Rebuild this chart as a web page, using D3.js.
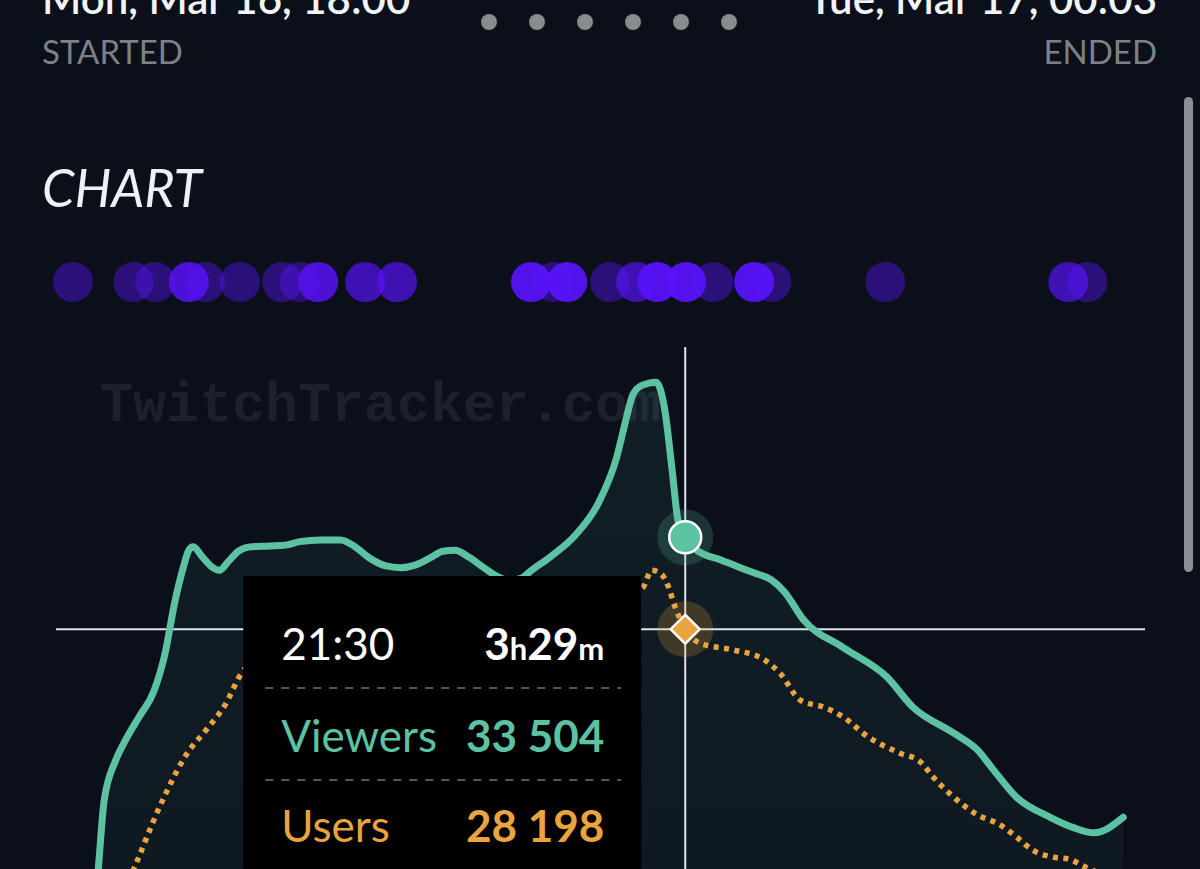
<!DOCTYPE html>
<html>
<head>
<meta charset="UTF-8">
<style>
body, html {
    margin: 0;
    padding: 0;
    width: 100%;
    height: 100%;
    overflow: hidden;
    background-color: #0a0f1a;
}
svg {
    display: block;
    font-family: Lato, "Noto Sans", sans-serif;
}
</style>
</head>
<body>
<svg id="chart" width="1200" height="869"></svg>

<script src="https://d3js.org/d3.v7.min.js"></script>
<script>
// stream info
let startLabel = "Mon, Mar 16, 18:00";
let endLabel = "Tue, Mar 17, 00:03";
let streamLength = 363; // minutes, 18:00 -> 00:03

// viewers (minutes after 18:00, count)
let viewerMinutes = [4, 9, 11, 15, 18, 23, 28, 32, 35, 38, 40, 41.5, 44.5, 47.5, 50.5, 53.5, 57, 61, 68, 73, 78, 85, 92, 97, 101.5, 107.5, 112.5, 117.5, 122.5, 127, 131, 136, 141, 145, 150, 154, 157, 164, 172.5, 180.5, 186.5, 189.5, 192, 195, 200, 203, 205.5, 207.5, 210, 214, 222, 233.5, 239.5, 244, 250.5, 264, 279, 288, 302, 310, 315.5, 323.5, 335, 343, 350, 360];
let viewerCounts = [6000, 14400, 18300, 20650, 21700, 23150, 24600, 26900, 29600, 31700, 32750, 32950, 32400, 31850, 31600, 32100, 32700, 32950, 33000, 33050, 33250, 33350, 33350, 32950, 32350, 31850, 31750, 31900, 32300, 32700, 32750, 32350, 31750, 31300, 31000, 31150, 31550, 32400, 33650, 35550, 38100, 40150, 41700, 42250, 42450, 40850, 37400, 34500, 33504, 32750, 32200, 31450, 31050, 30350, 28750, 27150, 25450, 23700, 22200, 21250, 20100, 18500, 17350, 16750, 16450, 17350];

// users (minutes after 18:00, count)
let userMinutes = [15, 21.5, 30, 39.5, 46, 52.5, 58, 65, 80, 95, 110, 125, 140, 155, 170, 185, 195.5, 198.5, 202, 204, 206.5, 210, 215, 226.5, 236.5, 242.5, 249.5, 257.5, 264, 272.5, 283.5, 290.5, 295, 301, 310, 318, 323.5, 329, 336, 341, 348, 355, 360];
let userCounts = [12000, 14500, 17950, 21050, 22400, 23850, 25650, 26600, 27400, 27600, 27000, 27300, 26900, 26500, 27800, 29800, 30600, 31600, 31350, 30750, 29500, 28198, 27400, 27000, 26500, 25650, 24100, 23700, 23150, 22000, 21050, 20550, 19650, 18650, 17500, 16900, 16200, 15450, 15050, 14950, 14400, 13900, 13600];

// chat / clip events on the timeline row (minute, intensity 1..3)
let eventMinutes = [0.3, 21, 28.5, 45.5, 57.5, 72, 78, 164.8, 184.3, 219.6, 239.5, 278.5, 347.7, 100.4, 111.3, 193.2, 341.2, 40, 84.3, 157.2, 169.6, 200.4, 210.3, 233.6];
let eventLevels = [1, 1, 1, 1, 1, 1, 1, 1, 1, 1, 1, 1, 1, 2, 2, 2, 2, 2.6, 2.6, 3, 3, 3, 3, 3];

// hovered point
let hoverMinute = 210;
let hoverViewers = 33504;
let hoverUsers = 28198;
let hoverTime = "21:30";
let hoverDuration = [["3", true], ["h", false], ["29", true], ["m", false]];

let teal = "#5dc2a2";
let orange = "#e9a43f";

function fmt(n) {
    return d3.format(",")(n).replace(/,/g, " ");
}

let svg = d3.select("#chart");
let defs = svg.append("defs");

let grad = defs.append("linearGradient")
    .attr("id", "areaFill")
    .attr("x1", 0).attr("y1", 0).attr("x2", 0).attr("y2", 1);
grad.append("stop").attr("offset", "0%").attr("stop-color", teal).attr("stop-opacity", 0.085);
grad.append("stop").attr("offset", "100%").attr("stop-color", teal).attr("stop-opacity", 0.04);

// header
svg.append("text").attr("x", 42).attr("y", 14)
    .attr("font-size", 42).attr("font-weight", 600).attr("fill", "#f2f3f7")
    .text(startLabel);
svg.append("text").attr("x", 42).attr("y", 64)
    .attr("font-size", 33).attr("fill", "#7c8089")
    .text("STARTED");
svg.append("text").attr("x", 1157).attr("y", 14).attr("text-anchor", "end")
    .attr("font-size", 42).attr("font-weight", 600).attr("fill", "#f2f3f7")
    .text(endLabel);
svg.append("text").attr("x", 1157).attr("y", 64).attr("text-anchor", "end")
    .attr("font-size", 33).attr("fill", "#7c8089")
    .text("ENDED");

// pager dots
svg.append("g").selectAll("circle")
    .data(d3.range(6))
    .enter()
    .append("circle")
    .attr("cx", d => 489 + d * 48)
    .attr("cy", 22)
    .attr("r", 8)
    .attr("fill", "#8b8b8e");

svg.append("text").attr("x", 42).attr("y", 207)
    .attr("font-size", 52).attr("font-style", "italic").attr("fill", "#eef0f6")
    .text("CHART");

// scrollbar
svg.append("rect").attr("x", 1184).attr("y", 97).attr("width", 9).attr("height", 475)
    .attr("rx", 4.5).attr("fill", "#8a8d95");

// scales
let x = d3.scaleLinear().domain([0, streamLength]).range([72, 1132]);
let y = d3.scaleLinear().domain([0, 45000]).range([1118, 338]);

// event dots
let events = eventMinutes.map((m, i) => ({ m: m, level: eventLevels[i] }))
    .sort((a, b) => a.level - b.level);
let eventOpacity = d3.scaleLinear().domain([1, 3]).range([0.42, 0.94]);

svg.append("g").selectAll("circle")
    .data(events)
    .enter()
    .append("circle")
    .attr("cx", d => x(d.m))
    .attr("cy", 282)
    .attr("r", 20)
    .attr("fill", "#5812fa")
    .attr("fill-opacity", d => eventOpacity(d.level));

// watermark
svg.append("text").attr("x", 100).attr("y", 421)
    .attr("font-family", "'Liberation Mono', 'DejaVu Sans Mono', monospace")
    .attr("font-weight", "bold").attr("font-size", 55)
    .attr("fill", "#1a202c")
    .text("TwitchTracker.com");

let viewers = viewerMinutes.map((m, i) => ({ m: m, v: viewerCounts[i] }));
let users = userMinutes.map((m, i) => ({ m: m, v: userCounts[i] }));

let area = d3.area()
    .x(d => x(d.m))
    .y0(y(0))
    .y1(d => y(d.v))
    .curve(d3.curveMonotoneX);

let line = d3.line()
    .x(d => x(d.m))
    .y(d => y(d.v))
    .curve(d3.curveMonotoneX);

svg.append("path")
    .datum(viewers)
    .attr("d", area)
    .attr("fill", "url(#areaFill)");

// crosshair
let hx = x(hoverMinute);
let hy = y(hoverUsers);
svg.append("line").attr("x1", hx).attr("x2", hx).attr("y1", 347).attr("y2", 869)
    .attr("stroke", "#dfe3ea").attr("stroke-width", 2);
svg.append("line").attr("x1", 56).attr("x2", 1145).attr("y1", hy).attr("y2", hy)
    .attr("stroke", "#dfe3ea").attr("stroke-width", 2);

svg.append("path")
    .datum(users)
    .attr("d", line)
    .attr("fill", "none")
    .attr("stroke", orange)
    .attr("stroke-width", 5.5)
    .attr("stroke-dasharray", "5,5.5");

svg.append("path")
    .datum(viewers)
    .attr("d", line)
    .attr("fill", "none")
    .attr("stroke", teal)
    .attr("stroke-width", 7)
    .attr("stroke-linecap", "round")
    .attr("stroke-linejoin", "round");

// markers
let vy = y(hoverViewers);
svg.append("circle").attr("cx", hx).attr("cy", vy).attr("r", 28)
    .attr("fill", teal).attr("fill-opacity", 0.2);
svg.append("circle").attr("cx", hx).attr("cy", vy).attr("r", 16)
    .attr("fill", teal).attr("stroke", "#ffffff").attr("stroke-width", 2.5);

svg.append("circle").attr("cx", hx).attr("cy", hy).attr("r", 28)
    .attr("fill", orange).attr("fill-opacity", 0.22);
svg.append("path")
    .attr("d", d3.symbol().type(d3.symbolSquare).size(420))
    .attr("transform", `translate(${hx},${hy}) rotate(45)`)
    .attr("fill", orange).attr("stroke", "#ffffff").attr("stroke-width", 2.5);

// tooltip
let tip = svg.append("g").attr("transform", `translate(${hx - 442},576)`);
tip.append("rect").attr("width", 398).attr("height", 320).attr("fill", "#000000");

tip.append("text").attr("x", 38).attr("y", 84)
    .attr("font-size", 44).attr("fill", "#ffffff")
    .text(hoverTime);

let dur = tip.append("text").attr("x", 361).attr("y", 84)
    .attr("text-anchor", "end").attr("fill", "#ffffff").attr("font-weight", "bold");
hoverDuration.forEach(p => {
    dur.append("tspan").attr("font-size", p[1] ? 44 : 31).text(p[0]);
});

[112, 204].forEach(yy => {
    tip.append("line").attr("x1", 22).attr("x2", 378).attr("y1", yy).attr("y2", yy)
        .attr("stroke", "#575757").attr("stroke-width", 2).attr("stroke-dasharray", "8,8");
});

let rows = [
    { label: "Viewers", value: hoverViewers, color: teal, y: 176 },
    { label: "Users", value: hoverUsers, color: orange, y: 266 }
];
rows.forEach(r => {
    tip.append("text").attr("x", 38).attr("y", r.y)
        .attr("font-size", 44).attr("fill", r.color).text(r.label);
    tip.append("text").attr("x", 361).attr("y", r.y).attr("text-anchor", "end")
        .attr("font-size", 44).attr("font-weight", "bold").attr("fill", r.color)
        .text(fmt(r.value));
});
</script>
</body>
</html>
